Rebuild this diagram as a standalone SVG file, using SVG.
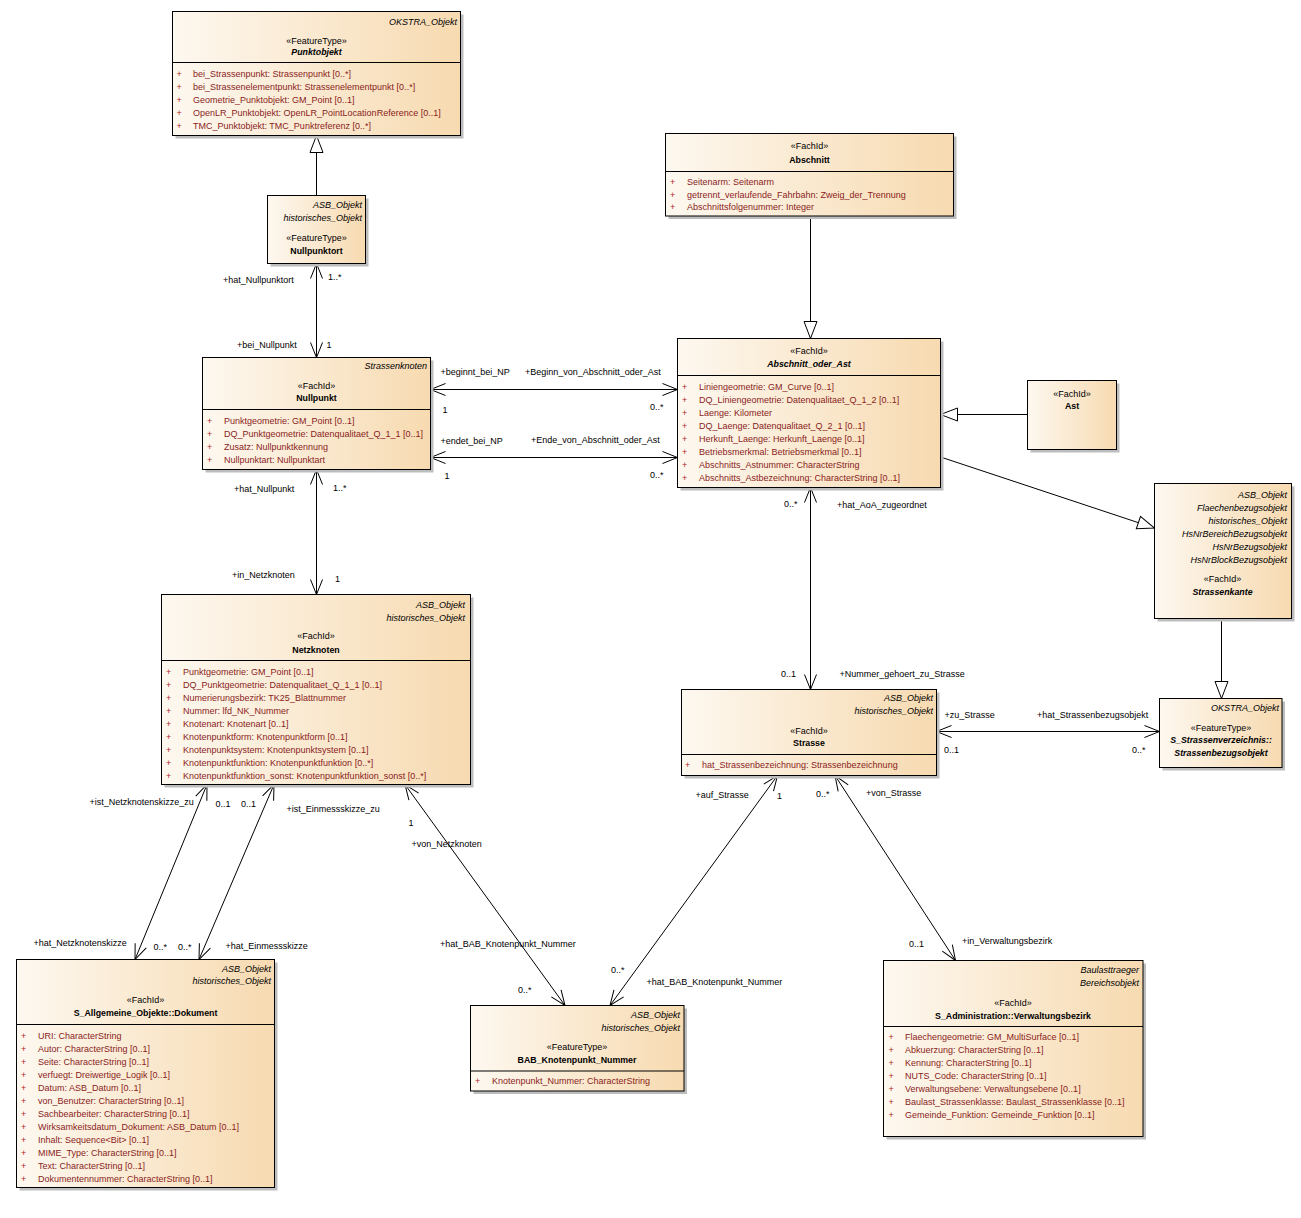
<svg xmlns="http://www.w3.org/2000/svg" width="1301" height="1218" viewBox="0 0 1301 1218">
<defs>
<linearGradient id="g" x1="0" y1="0" x2="1" y2="0">
<stop offset="0" stop-color="#fdf8f0"/>
<stop offset="1" stop-color="#f7dab0"/>
</linearGradient>
<marker id="arr" markerUnits="userSpaceOnUse" viewBox="-17 -8 19 16" refX="0" refY="0" markerWidth="19" markerHeight="16" orient="auto-start-reverse" overflow="visible">
<path d="M-15,-6 L0,0 L-15,6" fill="none" stroke="#000" stroke-width="1"/>
</marker>
<marker id="tri" markerUnits="userSpaceOnUse" viewBox="-19 -8 21 16" refX="0" refY="0" markerWidth="21" markerHeight="16" orient="auto" overflow="visible">
<path d="M-17,-6.5 L0,0 L-17,6.5 Z" fill="#fff" stroke="#000" stroke-width="1"/>
</marker>
</defs>
<style>
.box{fill:url(#g);stroke:#000;stroke-width:1}
.sh{fill:#bdbdbd}
.dv{stroke:#000;stroke-width:1}
text{font-family:"Liberation Sans",Arial,sans-serif;font-size:9px;fill:#000}
.i{font-style:italic;text-anchor:end}
.c{text-anchor:middle}
.b{font-weight:bold;font-size:8.8px}
.bi{font-weight:bold;font-style:italic;font-size:8.8px}
.a{fill:#8a1c1c}
.p{fill:#b01c1c}
.ln{stroke:#000;stroke-width:1;fill:none}
.as{marker-start:url(#arr);marker-end:url(#arr)}
.ge{marker-end:url(#tri)}
</style>
<rect width="1301" height="1218" fill="#fff"/>

<g id="connectors">
<line class="ln ge" x1="316.5" y1="195.5" x2="316.5" y2="135.5"/>
<line class="ln as" x1="316.5" y1="263.5" x2="316.5" y2="357.5"/>
<line class="ln as" x1="316.5" y1="469.5" x2="316.5" y2="594.5"/>
<line class="ln as" x1="430.5" y1="389.5" x2="677.5" y2="389.5"/>
<line class="ln as" x1="430.5" y1="457.5" x2="677.5" y2="457.5"/>
<line class="ln ge" x1="810.5" y1="216" x2="810.5" y2="338.5"/>
<line class="ln ge" x1="1027.5" y1="414.5" x2="940.5" y2="414.5"/>
<line class="ln ge" x1="940.5" y1="457" x2="1154.5" y2="528"/>
<line class="ln ge" x1="1221.5" y1="618.5" x2="1221.5" y2="698.5"/>
<line class="ln as" x1="810.5" y1="487.5" x2="810.5" y2="689.5"/>
<line class="ln as" x1="936.5" y1="731.5" x2="1159.5" y2="731.5"/>
<line class="ln as" x1="207" y1="784.5" x2="135" y2="959.5"/>
<line class="ln as" x1="274" y1="784.5" x2="199" y2="959.5"/>
<line class="ln as" x1="405" y1="784.5" x2="565" y2="1005.5"/>
<line class="ln as" x1="777.5" y1="775.5" x2="610" y2="1005.5"/>
<line class="ln as" x1="835" y1="775.5" x2="955.5" y2="960.5"/>
<text x="223" y="283">+hat_Nullpunktort</text>
<text x="328" y="280">1..*</text>
<text x="237" y="348">+bei_Nullpunkt</text>
<text x="326.5" y="348">1</text>
<text x="234" y="492">+hat_Nullpunkt</text>
<text x="333" y="491">1..*</text>
<text x="232" y="578">+in_Netzknoten</text>
<text x="335" y="582">1</text>
<text x="440.5" y="375">+beginnt_bei_NP</text>
<text x="525" y="375">+Beginn_von_Abschnitt_oder_Ast</text>
<text x="442.5" y="412.5">1</text>
<text x="650" y="410">0..*</text>
<text x="440.5" y="443.5">+endet_bei_NP</text>
<text x="531" y="442.5">+Ende_von_Abschnitt_oder_Ast</text>
<text x="444.5" y="479">1</text>
<text x="650" y="477.5">0..*</text>
<text x="784" y="507">0..*</text>
<text x="837" y="508">+hat_AoA_zugeordnet</text>
<text x="781" y="676.5">0..1</text>
<text x="839.5" y="676.5">+Nummer_gehoert_zu_Strasse</text>
<text x="944.5" y="718">+zu_Strasse</text>
<text x="1037" y="718">+hat_Strassenbezugsobjekt</text>
<text x="944" y="753">0..1</text>
<text x="1132" y="753">0..*</text>
<text x="89.5" y="805">+ist_Netzknotenskizze_zu</text>
<text x="215.5" y="807">0..1</text>
<text x="241" y="807">0..1</text>
<text x="286.5" y="811.5">+ist_Einmessskizze_zu</text>
<text x="408.5" y="825.5">1</text>
<text x="411.5" y="846.5">+von_Netzknoten</text>
<text x="695.5" y="798">+auf_Strasse</text>
<text x="777" y="799">1</text>
<text x="816" y="797">0..*</text>
<text x="866" y="795.5">+von_Strasse</text>
<text x="33.5" y="946">+hat_Netzknotenskizze</text>
<text x="153.5" y="950">0..*</text>
<text x="178" y="950">0..*</text>
<text x="225.5" y="949">+hat_Einmessskizze</text>
<text x="440" y="946.5">+hat_BAB_Knotenpunkt_Nummer</text>
<text x="909" y="946.5">0..1</text>
<text x="962" y="944">+in_Verwaltungsbezirk</text>
<text x="611" y="972.5">0..*</text>
<text x="646.5" y="984.5">+hat_BAB_Knotenpunkt_Nummer</text>
<text x="518" y="992.5">0..*</text>
</g>

<g id="Punktobjekt">
<rect class="sh" x="175.5" y="14.5" width="288" height="124"/>
<rect class="box" x="172.5" y="11.5" width="288" height="124"/>
<line class="dv" x1="172.5" y1="62.5" x2="460.5" y2="62.5"/>
<text class="i" x="457" y="24.5">OKSTRA_Objekt</text>
<text class="c" x="316.5" y="43.5">«FeatureType»</text>
<text class="c bi" x="316.5" y="54.5">Punktobjekt</text>
<text class="p" x="176.5" y="76.5">+</text><text class="a" x="193" y="76.5">bei_Strassenpunkt: Strassenpunkt [0..*]</text>
<text class="p" x="176.5" y="89.5">+</text><text class="a" x="193" y="89.5">bei_Strassenelementpunkt: Strassenelementpunkt [0..*]</text>
<text class="p" x="176.5" y="102.5">+</text><text class="a" x="193" y="102.5">Geometrie_Punktobjekt: GM_Point [0..1]</text>
<text class="p" x="176.5" y="115.5">+</text><text class="a" x="193" y="115.5">OpenLR_Punktobjekt: OpenLR_PointLocationReference [0..1]</text>
<text class="p" x="176.5" y="128.5">+</text><text class="a" x="193" y="128.5">TMC_Punktobjekt: TMC_Punktreferenz [0..*]</text>
</g>

<g id="Nullpunktort">
<rect class="sh" x="270.5" y="198.5" width="98" height="68"/>
<rect class="box" x="267.5" y="195.5" width="98" height="68"/>
<text class="i" x="362" y="208">ASB_Objekt</text>
<text class="i" x="362" y="220.5">historisches_Objekt</text>
<text class="c" x="316.5" y="240.5">«FeatureType»</text>
<text class="c b" x="316.5" y="254">Nullpunktort</text>
</g>

<g id="Nullpunkt">
<rect class="sh" x="205.5" y="360.5" width="228" height="112"/>
<rect class="box" x="202.5" y="357.5" width="228" height="112"/>
<line class="dv" x1="202.5" y1="409.5" x2="430.5" y2="409.5"/>
<text class="i" x="427" y="369">Strassenknoten</text>
<text class="c" x="316.5" y="388.5">«FachId»</text>
<text class="c b" x="316.5" y="401">Nullpunkt</text>
<text class="p" x="207" y="423.5">+</text><text class="a" x="224" y="423.5">Punktgeometrie: GM_Point [0..1]</text>
<text class="p" x="207" y="436.5">+</text><text class="a" x="224" y="436.5">DQ_Punktgeometrie: Datenqualitaet_Q_1_1 [0..1]</text>
<text class="p" x="207" y="449.5">+</text><text class="a" x="224" y="449.5">Zusatz: Nullpunktkennung</text>
<text class="p" x="207" y="462.5">+</text><text class="a" x="224" y="462.5">Nullpunktart: Nullpunktart</text>
</g>

<g id="Abschnitt">
<rect class="sh" x="668.5" y="136.5" width="288" height="82.5"/>
<rect class="box" x="665.5" y="133.5" width="288" height="82.5"/>
<line class="dv" x1="665.5" y1="171.5" x2="953.5" y2="171.5"/>
<text class="c" x="809.5" y="149">«FachId»</text>
<text class="c b" x="809.5" y="162.5">Abschnitt</text>
<text class="p" x="670" y="185">+</text><text class="a" x="687" y="185">Seitenarm: Seitenarm</text>
<text class="p" x="670" y="197.5">+</text><text class="a" x="687" y="197.5">getrennt_verlaufende_Fahrbahn: Zweig_der_Trennung</text>
<text class="p" x="670" y="210">+</text><text class="a" x="687" y="210">Abschnittsfolgenummer: Integer</text>
</g>

<g id="Abschnitt_oder_Ast">
<rect class="sh" x="680.5" y="341.5" width="263" height="149"/>
<rect class="box" x="677.5" y="338.5" width="263" height="149"/>
<line class="dv" x1="677.5" y1="375.5" x2="940.5" y2="375.5"/>
<text class="c" x="809" y="354">«FachId»</text>
<text class="c bi" x="809" y="367">Abschnitt_oder_Ast</text>
<text class="p" x="682" y="390">+</text><text class="a" x="699" y="390">Liniengeometrie: GM_Curve [0..1]</text>
<text class="p" x="682" y="403">+</text><text class="a" x="699" y="403">DQ_Liniengeometrie: Datenqualitaet_Q_1_2 [0..1]</text>
<text class="p" x="682" y="416">+</text><text class="a" x="699" y="416">Laenge: Kilometer</text>
<text class="p" x="682" y="429">+</text><text class="a" x="699" y="429">DQ_Laenge: Datenqualitaet_Q_2_1 [0..1]</text>
<text class="p" x="682" y="442">+</text><text class="a" x="699" y="442">Herkunft_Laenge: Herkunft_Laenge [0..1]</text>
<text class="p" x="682" y="455">+</text><text class="a" x="699" y="455">Betriebsmerkmal: Betriebsmerkmal [0..1]</text>
<text class="p" x="682" y="468">+</text><text class="a" x="699" y="468">Abschnitts_Astnummer: CharacterString</text>
<text class="p" x="682" y="481">+</text><text class="a" x="699" y="481">Abschnitts_Astbezeichnung: CharacterString [0..1]</text>
</g>

<g id="Ast">
<rect class="sh" x="1030.5" y="383.5" width="89" height="69"/>
<rect class="box" x="1027.5" y="380.5" width="89" height="69"/>
<text class="c" x="1072" y="396.5">«FachId»</text>
<text class="c b" x="1072" y="409">Ast</text>
</g>

<g id="Strassenkante">
<rect class="sh" x="1157.5" y="486.5" width="137" height="135"/>
<rect class="box" x="1154.5" y="483.5" width="137" height="135"/>
<text class="i" x="1287" y="498">ASB_Objekt</text>
<text class="i" x="1287" y="511">Flaechenbezugsobjekt</text>
<text class="i" x="1287" y="524">historisches_Objekt</text>
<text class="i" x="1287" y="537">HsNrBereichBezugsobjekt</text>
<text class="i" x="1287" y="550">HsNrBezugsobjekt</text>
<text class="i" x="1287" y="563">HsNrBlockBezugsobjekt</text>
<text class="c" x="1222.5" y="582">«FachId»</text>
<text class="c bi" x="1222.5" y="595">Strassenkante</text>
</g>

<g id="Netzknoten">
<rect class="sh" x="164.5" y="597.5" width="309" height="190"/>
<rect class="box" x="161.5" y="594.5" width="309" height="190"/>
<line class="dv" x1="161.5" y1="660.5" x2="470.5" y2="660.5"/>
<text class="i" x="465" y="608">ASB_Objekt</text>
<text class="i" x="465" y="621">historisches_Objekt</text>
<text class="c" x="316" y="639">«FachId»</text>
<text class="c b" x="316" y="652.5">Netzknoten</text>
<text class="p" x="166" y="674.5">+</text><text class="a" x="183" y="674.5">Punktgeometrie: GM_Point [0..1]</text>
<text class="p" x="166" y="687.5">+</text><text class="a" x="183" y="687.5">DQ_Punktgeometrie: Datenqualitaet_Q_1_1 [0..1]</text>
<text class="p" x="166" y="700.5">+</text><text class="a" x="183" y="700.5">Numerierungsbezirk: TK25_Blattnummer</text>
<text class="p" x="166" y="713.5">+</text><text class="a" x="183" y="713.5">Nummer: lfd_NK_Nummer</text>
<text class="p" x="166" y="726.5">+</text><text class="a" x="183" y="726.5">Knotenart: Knotenart [0..1]</text>
<text class="p" x="166" y="739.5">+</text><text class="a" x="183" y="739.5">Knotenpunktform: Knotenpunktform [0..1]</text>
<text class="p" x="166" y="752.5">+</text><text class="a" x="183" y="752.5">Knotenpunktsystem: Knotenpunktsystem [0..1]</text>
<text class="p" x="166" y="765.5">+</text><text class="a" x="183" y="765.5">Knotenpunktfunktion: Knotenpunktfunktion [0..*]</text>
<text class="p" x="166" y="778.5">+</text><text class="a" x="183" y="778.5">Knotenpunktfunktion_sonst: Knotenpunktfunktion_sonst [0..*]</text>
</g>

<g id="Strasse">
<rect class="sh" x="684.5" y="692.5" width="255" height="86"/>
<rect class="box" x="681.5" y="689.5" width="255" height="86"/>
<line class="dv" x1="681.5" y1="754.5" x2="936.5" y2="754.5"/>
<text class="i" x="933" y="701">ASB_Objekt</text>
<text class="i" x="933" y="714">historisches_Objekt</text>
<text class="c" x="809" y="733.5">«FachId»</text>
<text class="c b" x="809" y="746">Strasse</text>
<text class="p" x="685" y="768">+</text><text class="a" x="702" y="768">hat_Strassenbezeichnung: Strassenbezeichnung</text>
</g>

<g id="Strassenbezugsobjekt">
<rect class="sh" x="1162.5" y="701.5" width="122.5" height="69"/>
<rect class="box" x="1159.5" y="698.5" width="122.5" height="69"/>
<text class="i" x="1279" y="711">OKSTRA_Objekt</text>
<text class="c" x="1221" y="730.5">«FeatureType»</text>
<text class="c bi" x="1221" y="743">S_Strassenverzeichnis::</text>
<text class="c bi" x="1221" y="756">Strassenbezugsobjekt</text>
</g>

<g id="Dokument">
<rect class="sh" x="19.5" y="962.5" width="258" height="228"/>
<rect class="box" x="16.5" y="959.5" width="258" height="228"/>
<line class="dv" x1="16.5" y1="1024.5" x2="274.5" y2="1024.5"/>
<text class="i" x="271" y="971.5">ASB_Objekt</text>
<text class="i" x="271" y="984">historisches_Objekt</text>
<text class="c" x="145.5" y="1002.5">«FachId»</text>
<text class="c b" x="145.5" y="1016">S_Allgemeine_Objekte::Dokument</text>
<text class="p" x="21" y="1038.5">+</text><text class="a" x="38" y="1038.5">URI: CharacterString</text>
<text class="p" x="21" y="1051.5">+</text><text class="a" x="38" y="1051.5">Autor: CharacterString [0..1]</text>
<text class="p" x="21" y="1064.5">+</text><text class="a" x="38" y="1064.5">Seite: CharacterString [0..1]</text>
<text class="p" x="21" y="1077.5">+</text><text class="a" x="38" y="1077.5">verfuegt: Dreiwertige_Logik [0..1]</text>
<text class="p" x="21" y="1090.5">+</text><text class="a" x="38" y="1090.5">Datum: ASB_Datum [0..1]</text>
<text class="p" x="21" y="1103.5">+</text><text class="a" x="38" y="1103.5">von_Benutzer: CharacterString [0..1]</text>
<text class="p" x="21" y="1116.5">+</text><text class="a" x="38" y="1116.5">Sachbearbeiter: CharacterString [0..1]</text>
<text class="p" x="21" y="1129.5">+</text><text class="a" x="38" y="1129.5">Wirksamkeitsdatum_Dokument: ASB_Datum [0..1]</text>
<text class="p" x="21" y="1142.5">+</text><text class="a" x="38" y="1142.5">Inhalt: Sequence&lt;Bit&gt; [0..1]</text>
<text class="p" x="21" y="1155.5">+</text><text class="a" x="38" y="1155.5">MIME_Type: CharacterString [0..1]</text>
<text class="p" x="21" y="1168.5">+</text><text class="a" x="38" y="1168.5">Text: CharacterString [0..1]</text>
<text class="p" x="21" y="1181.5">+</text><text class="a" x="38" y="1181.5">Dokumentennummer: CharacterString [0..1]</text>
</g>

<g id="BAB_Knotenpunkt_Nummer">
<rect class="sh" x="473.5" y="1008.5" width="213.5" height="85.5"/>
<rect class="box" x="470.5" y="1005.5" width="213.5" height="85.5"/>
<line class="dv" x1="470.5" y1="1071" x2="684" y2="1071"/>
<text class="i" x="680" y="1018">ASB_Objekt</text>
<text class="i" x="680" y="1030.5">historisches_Objekt</text>
<text class="c" x="577" y="1049.5">«FeatureType»</text>
<text class="c b" x="577" y="1062.5">BAB_Knotenpunkt_Nummer</text>
<text class="p" x="475" y="1084">+</text><text class="a" x="492" y="1084">Knotenpunkt_Nummer: CharacterString</text>
</g>

<g id="Verwaltungsbezirk">
<rect class="sh" x="886.5" y="963.5" width="259.5" height="176"/>
<rect class="box" x="883.5" y="960.5" width="259.5" height="176"/>
<line class="dv" x1="883.5" y1="1026.5" x2="1143" y2="1026.5"/>
<text class="i" x="1139" y="973">Baulasttraeger</text>
<text class="i" x="1139" y="986">Bereichsobjekt</text>
<text class="c" x="1013" y="1005.5">«FachId»</text>
<text class="c b" x="1013" y="1019">S_Administration::Verwaltungsbezirk</text>
<text class="p" x="888.5" y="1040">+</text><text class="a" x="905" y="1040">Flaechengeometrie: GM_MultiSurface [0..1]</text>
<text class="p" x="888.5" y="1053">+</text><text class="a" x="905" y="1053">Abkuerzung: CharacterString [0..1]</text>
<text class="p" x="888.5" y="1066">+</text><text class="a" x="905" y="1066">Kennung: CharacterString [0..1]</text>
<text class="p" x="888.5" y="1079">+</text><text class="a" x="905" y="1079">NUTS_Code: CharacterString [0..1]</text>
<text class="p" x="888.5" y="1092">+</text><text class="a" x="905" y="1092">Verwaltungsebene: Verwaltungsebene [0..1]</text>
<text class="p" x="888.5" y="1105">+</text><text class="a" x="905" y="1105">Baulast_Strassenklasse: Baulast_Strassenklasse [0..1]</text>
<text class="p" x="888.5" y="1118">+</text><text class="a" x="905" y="1118">Gemeinde_Funktion: Gemeinde_Funktion [0..1]</text>
</g>
</svg>
